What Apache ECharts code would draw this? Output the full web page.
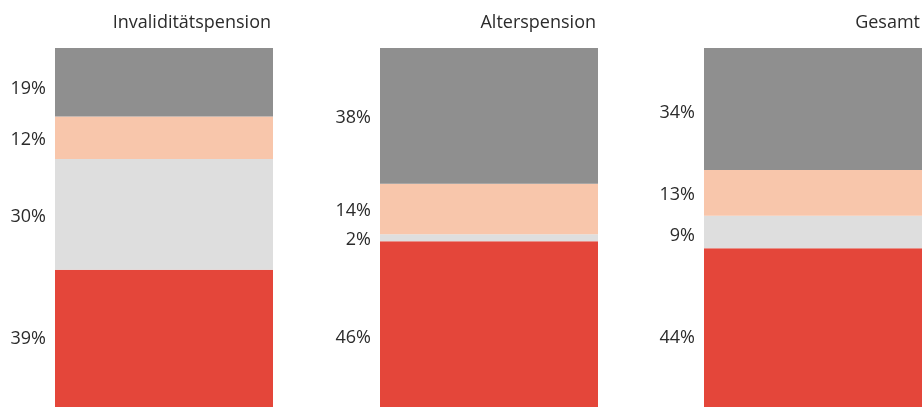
<!DOCTYPE html>
<html>
<head>
<meta charset="utf-8">
<script src="https://cdn.jsdelivr.net/npm/echarts@6/dist/echarts.min.js"></script>
<style>
  html, body { margin: 0; padding: 0; background: #fff; }
  #chart { width: 923px; height: 407px; }
</style>
</head>
<body>
<div id="chart"></div>
<script>
// panels, left to right
const panels = ['Invaliditätspension', 'Alterspension', 'Gesamt']

// segment shares per panel, bottom to top
const redValues   = [38.2, 46.2, 44.2]
const lightValues = [30.9, 1.9, 9.1]
const peachValues = [11.8, 14.1, 12.7]
const grayValues  = [19.1, 37.8, 34.0]

// printed labels
const redLabels   = ['39%', '46%', '44%']
const lightLabels = ['30%', '2%', '9%']
const peachLabels = ['12%', '14%', '13%']
const grayLabels  = ['19%', '38%', '34%']

const FONT = '"Open Sans"'
const gridLefts = [55, 380, 704]

// small vertical nudges of the labels, as placed in the original
const layers = [
  { name: 'red',   values: redValues,   labels: redLabels,   color: '#e4463a', shift: [0, 14, 10] },
  { name: 'light', values: lightValues, labels: lightLabels, color: '#dedede', shift: [2, 2, 4] },
  { name: 'peach', values: peachValues, labels: peachLabels, color: '#f8c6ab', shift: [2, 2, 2] },
  { name: 'gray',  values: grayValues,  labels: grayLabels,  color: '#8f8f8f', shift: [7, 2, 4] },
]

const chart = echarts.init(document.getElementById('chart'))

const option = {
  animation: false,
  title: panels.map((p, i) => ({
    text: p,
    right: 923 - (gridLefts[i] + 221),
    top: 9,
    textStyle: { fontFamily: FONT, fontSize: 18, fontWeight: 'normal', color: '#2b2b2b' },
  })),
  grid: gridLefts.map(l => ({ left: l, top: 48, width: 218, height: 362 })),
  xAxis: panels.map((p, i) => ({
    type: 'category',
    gridIndex: i,
    data: [p],
    show: false,
  })),
  yAxis: panels.map((p, i) => ({
    type: 'value',
    gridIndex: i,
    min: 0,
    max: 100,
    show: false,
  })),
  series: [],
}

panels.forEach((p, i) => {
  layers.forEach(layer => {
    option.series.push({
      type: 'bar',
      name: layer.name,
      xAxisIndex: i,
      yAxisIndex: i,
      stack: 'p' + i,
      barWidth: '100%',
      data: [layer.values[i]],
      itemStyle: { color: layer.color },
      label: {
        show: true,
        position: 'left',
        distance: 9,
        offset: [0, layer.shift[i]],
        formatter: () => layer.labels[i],
        fontFamily: FONT,
        fontSize: 18,
        color: '#2b2b2b',
      },
    })
  })
})

chart.setOption(option)
</script>
</body>
</html>
